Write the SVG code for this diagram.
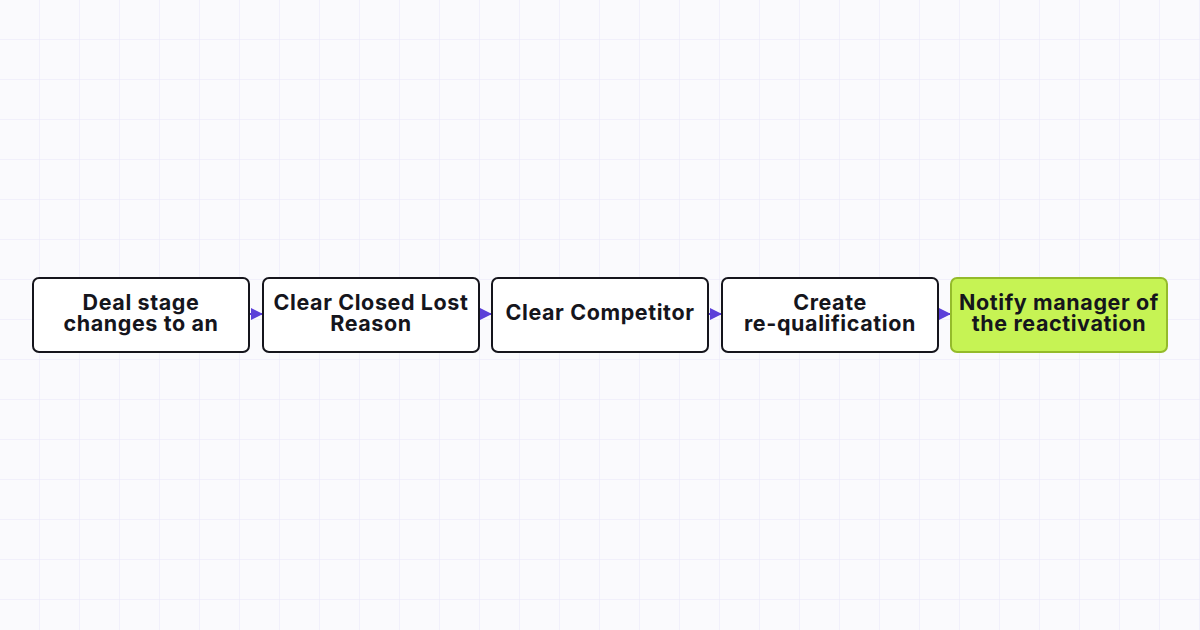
<svg xmlns="http://www.w3.org/2000/svg" width="1200" height="630" viewBox="0 0 1200 630">
<defs>
<pattern id="grid" width="40" height="40" patternUnits="userSpaceOnUse"><path d="M40 0V40M0 40H40" fill="none" stroke="#e9e7f8" stroke-width="1"/></pattern>
<marker id="ah" viewBox="0 0 12 12" refX="12" refY="6" markerWidth="12" markerHeight="12" markerUnits="userSpaceOnUse" orient="auto"><path d="M0 0L12 6L0 12z" fill="#5b3fd9"/></marker>
</defs>
<style>
.box{fill:#fff;stroke:#15151c;stroke-width:2}
.hl{fill:#c6f354;stroke:#94bb2b;stroke-width:2}
text{font-family:Inter,"Noto Sans",sans-serif;font-weight:700;font-size:21.5px;letter-spacing:0.6px;fill:#15151c;text-anchor:middle}
.c{stroke:#5b3fd9;stroke-width:2;fill:none}
</style>
<rect width="1200" height="630" fill="#fafafd"/>
<rect width="1200" height="630" fill="url(#grid)"/>
<g id="connectors">
<path class="c" d="M249 314H263" marker-end="url(#ah)"/>
<path class="c" d="M479 314H492" marker-end="url(#ah)"/>
<path class="c" d="M708 314H722" marker-end="url(#ah)"/>
<path class="c" d="M938 314H951" marker-end="url(#ah)"/>
</g>
<g id="n1"><rect class="box" x="33" y="278" width="216" height="74" rx="6"/><text x="141" y="310">Deal stage</text><text x="141" y="331">changes to an</text></g>
<g id="n2"><rect class="box" x="263" y="278" width="216" height="74" rx="6"/><text x="371" y="310">Clear Closed Lost</text><text x="371" y="331">Reason</text></g>
<g id="n3"><rect class="box" x="492" y="278" width="216" height="74" rx="6"/><text x="600" y="320">Clear Competitor</text></g>
<g id="n4"><rect class="box" x="722" y="278" width="216" height="74" rx="6"/><text x="830" y="310">Create</text><text x="830" y="331">re-qualification</text></g>
<g id="n5"><rect class="hl" x="951" y="278" width="216" height="74" rx="6"/><text x="1059" y="310">Notify manager of</text><text x="1059" y="331">the reactivation</text></g>
</svg>
